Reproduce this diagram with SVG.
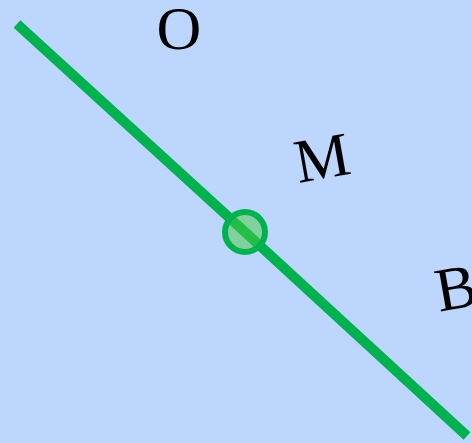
<svg xmlns="http://www.w3.org/2000/svg" width="472" height="443" viewBox="0 0 472 443">
<style>
.lbl{font-family:"Liberation Serif","Times New Roman",serif;font-size:62px;fill:#000}
.ln{stroke:#00b14f;stroke-width:10;fill:none;stroke-linecap:butt}
</style>
<rect width="472" height="443" fill="#bcd6fe"/>
<g id="connectors">
<line class="ln" x1="17" y1="24" x2="245" y2="232"/>
<line class="ln" x1="245" y1="232" x2="467" y2="436"/>
</g>
<g id="node-point">
<circle cx="245" cy="232" r="20" fill="#44cc3c" fill-opacity="0.5" stroke="#00b14f" stroke-width="6"/>
</g>
<g id="label-O"><text class="lbl" x="179" y="49" text-anchor="middle">O</text></g>
<g id="label-M"><text class="lbl" x="322" y="178.5" text-anchor="middle" transform="rotate(-10 322 158)">M</text></g>
<g id="label-B"><text class="lbl" x="456" y="308.5" text-anchor="middle" transform="rotate(-10 456 288)">B</text></g>
</svg>
